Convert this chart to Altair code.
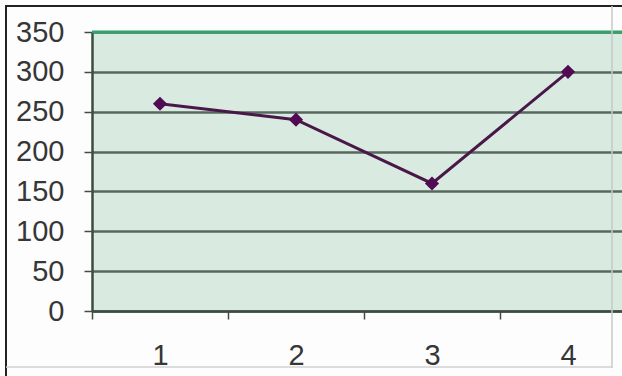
import altair as alt
import pandas as pd

categories = ["1", "2", "3", "4"]
values = [260, 240, 160, 300]
y_ticks = [0, 50, 100, 150, 200, 250, 300, 350]

df = pd.DataFrame({"cat": categories, "val": values})

FONT = "Liberation Sans"

x_enc = alt.X(
    "cat:O",
    scale=alt.Scale(type="band", domain=categories, range=[0, 544],
                    paddingInner=0, paddingOuter=0),
    axis=alt.Axis(title=None, labelAngle=0, labelFontSize=29, labelFont=FONT,
                  labelColor="#363636", labelPadding=22, tickBand="extent",
                  labelOverlap=False,
                  tickSize=8, tickColor="#3f4f45", tickWidth=1.5,
                  domainColor="#3b4d42", domainWidth=2.5, grid=False),
)
y_scale = alt.Scale(domain=[0, 350], nice=False, zero=True)
y_axis = alt.Axis(title=None, values=y_ticks, labelFontSize=29, labelFont=FONT,
                  labelColor="#363636", labelPadding=20, tickSize=8,
                  labelOverlap=False, labelFlush=False,
                  tickColor="#3f4f45", tickWidth=1.5, domainColor="#3b4d42",
                  domainWidth=2.5, grid=True, gridColor="#56695e",
                  gridWidth=2.5, gridOpacity=1)
y_enc = alt.Y("val:Q", scale=y_scale, axis=y_axis)

line = alt.Chart(df).mark_line(color="#4a1848", strokeWidth=3).encode(x=x_enc, y=y_enc)
pts = alt.Chart(df).mark_point(shape="diamond", filled=True, size=200,
                               color="#520a55", opacity=1).encode(x=x_enc, y=y_enc)

top_rule = alt.Chart(pd.DataFrame({"val": [350]})).mark_rule(
    color="#30a468", strokeWidth=3).encode(y=y_enc)

frame_df = pd.DataFrame({"d": [0]})
left_b = alt.Chart(frame_df).mark_rule(color="#222222", strokeWidth=2).encode(
    x=alt.value(-86), y=alt.value(-27), y2=alt.value(345))
top_b = alt.Chart(frame_df).mark_rule(color="#222222", strokeWidth=2).encode(
    x=alt.value(-87), x2=alt.value(540), y=alt.value(-26))
right_b = alt.Chart(frame_df).mark_rule(color="#c8c8c8", strokeWidth=1.5).encode(
    x=alt.value(520), y=alt.value(-26), y2=alt.value(336))
bottom_b = alt.Chart(frame_df).mark_rule(color="#d0d0d0", strokeWidth=1.5).encode(
    x=alt.value(-86), x2=alt.value(520), y=alt.value(335))

chart = alt.layer(line, top_rule, pts, left_b, top_b, right_b, bottom_b).properties(
    width=530, height=279,
    autosize=alt.AutoSizeParams(type="none"),
    padding={"left": 92, "top": 32, "right": 0, "bottom": 65},
    background="#fdfdfd",
).configure_view(fill="#d9ebe0", stroke=None)

chart.save("out.html", embed_options={"renderer": "svg", "actions": False})
